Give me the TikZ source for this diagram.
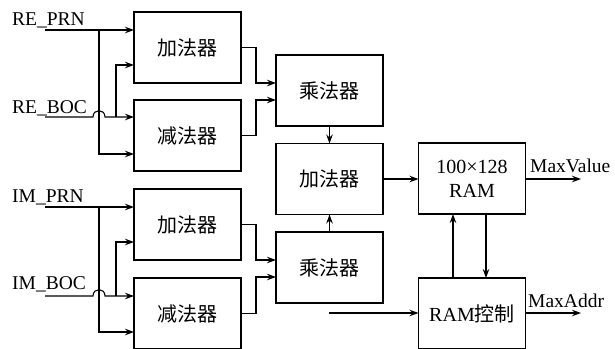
\documentclass[tikz,border=0pt]{standalone}
\usepackage{fontspec}
\setmainfont{Liberation Serif}
\newfontfamily\cjk{Noto Sans CJK SC}
\usetikzlibrary{arrows.meta}
\tikzset{
  blk/.style={draw, line width=1.1pt, minimum width=107pt, minimum height=71pt, inner sep=0pt, outer sep=0pt, font=\fontsize{20}{24}\selectfont, align=center},
  arr/.style={line width=1.1pt, -{Stealth[length=9pt,width=6.5pt]}},
  ln/.style={line width=1.1pt},
  lbl/.style={anchor=base west, inner sep=0pt, font=\fontsize{19.5}{22}\selectfont}
}
\begin{document}
\begin{tikzpicture}[x=1pt,y=-1pt]
\useasboundingbox (0,0) rectangle (615,348);
\clip (0,0) rectangle (615,348);
% blocks
\node[blk] (add1) at (187.5,47.5) {\cjk 加法器};
\node[blk] (sub1) at (187.5,135.5) {\cjk 减法器};
\node[blk] (add2) at (187.5,224.5) {\cjk 加法器};
\node[blk] (sub2) at (187.5,313.5) {\cjk 减法器};
\node[blk] (mul1) at (329.5,90.5) {\cjk 乘法器};
\node[blk] (add3) at (329.5,179) {\cjk 加法器};
\node[blk] (mul2) at (329.5,267.5) {\cjk 乘法器};
\node[blk] (ram) at (472,178.5) {100×128\\RAM};
\node[blk] (ctrl) at (472,313.5) {RAM{\cjk 控制}};
% labels
\node[lbl] (tREPRN) at (12,25) {RE\_PRN};
\node[lbl] (tREBOC) at (12,113) {RE\_BOC};
\node[lbl] (tIMPRN) at (12,202) {IM\_PRN};
\node[lbl] (tIMBOC) at (12,289) {IM\_BOC};
\node[lbl] (tMaxV) at (530,172) {MaxValue};
\node[lbl] (tMaxA) at (528,307) {MaxAddr};
% free-end coordinates
\coordinate (rePRN) at (45,30);
\coordinate (reBOC) at (45,117);
\coordinate (imPRN) at (45,207);
\coordinate (imBOC) at (45,296);
\coordinate (j1) at (99,30);
\coordinate (j2) at (116,117);
\coordinate (j3) at (99,207);
\coordinate (j4) at (116,296);
\coordinate (ctrlin) at (329,313);
\coordinate (outV) at (581,179);
\coordinate (outA) at (581,313);
% RE inputs
\draw[arr] (rePRN) -- (add1.west |- rePRN);
\draw[arr] (j1) |- (sub1.west |- 0,154);
\draw[arr] (reBOC) -- (93,117) .. controls (93,108.5) and (105,108.5) .. (105,117) -- (sub1.west |- reBOC);
\draw[arr] (j2) |- (add1.west |- 0,65);
% IM inputs
\draw[arr] (imPRN) -- (add2.west |- imPRN);
\draw[arr] (j3) |- (sub2.west |- 0,332);
\draw[arr] (imBOC) -- (93,296) .. controls (93,287.5) and (105,287.5) .. (105,296) -- (sub2.west |- imBOC);
\draw[arr] (j4) |- (add2.west |- 0,242);
% to multipliers
\draw[arr] (add1.east) -- (256,47.5) |- (mul1.west |- 0,83);
\draw[arr] (sub1.east) -- (256,135.5) |- (mul1.west |- 0,100);
\draw[arr] (add2.east) -- (256,224.5) |- (mul2.west |- 0,260);
\draw[arr] (sub2.east) -- (256,313.5) |- (mul2.west |- 0,277);
% middle
\draw[arr] (mul1.south) -- (add3.north);
\draw[arr] (mul2.north) -- (add3.south);
\draw[arr] (add3.east) -- (ram.west |- add3.east);
\draw[arr] (ctrlin) -- (ctrl.west |- ctrlin);
% RAM
\draw[arr] (ram.east |- outV) -- (outV);
\draw[arr] (ctrl.east |- outA) -- (outA);
\draw[arr] (ctrl.north -| 453,0) -- (ram.south -| 453,0);
\draw[arr] (ram.south -| 486,0) -- (ctrl.north -| 486,0);
\end{tikzpicture}
\end{document}
